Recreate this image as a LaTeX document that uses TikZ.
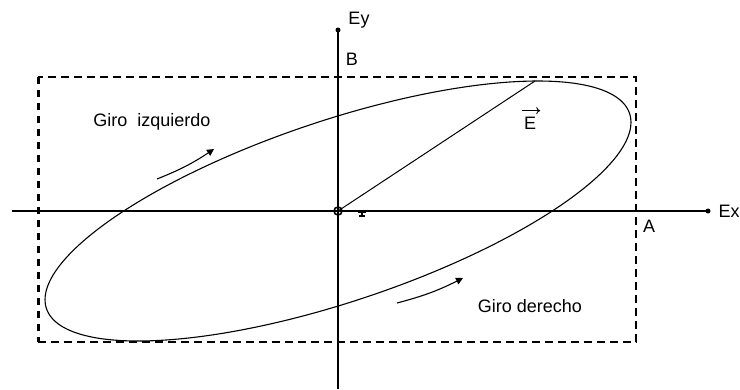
\documentclass[tikz,border=0pt]{standalone}
\usepackage{fontspec}
\setmainfont{Liberation Sans}
\usetikzlibrary{arrows.meta}
\begin{document}
\begin{tikzpicture}[x=1pt,y=-1pt,
  axis/.style={line width=1.5pt},
  lbl/.style={font=\fontsize{18}{20}\selectfont, inner sep=0pt},
  curve/.style={line width=1.1pt},
  rot/.style={line width=1.1pt,-{Triangle[length=7pt,width=7pt]}},
  box/.style={line width=1.3pt, dash pattern=on 8pt off 5pt},
  boxthick/.style={line width=3pt, dash pattern=on 7pt off 6pt},
  dot/.style={circle, fill, inner sep=0pt, minimum size=5pt}]
\useasboundingbox (0,0) rectangle (740,389);
% axes
\coordinate (O) at (338,211);
\coordinate (xl) at (12,211);
\coordinate (yb) at (338,389);
\node[dot] (xr) at (708,211) {};
\node[dot] (yt) at (338,30) {};
\draw[axis] (xl) -- (xr.center);
\draw[axis] (yb) -- (yt.center);
% dashed rectangle
\coordinate (rtl) at (38,77);
\coordinate (rtr) at (636,77);
\coordinate (rbr) at (636,342);
\coordinate (rbl) at (38,342);
\draw[box] (rbl) -- (rbr) -- (rtr) -- (rtl);
\draw[boxthick] (rtl) -- (rbl);
% ellipse
\draw[curve] plot[domain=0:360,samples=120,smooth] ({338+293*cos(\x)},{211-130*cos(\x-47)});
% field vector
\coordinate (Et) at (535,81);
\draw[line width=1pt] (O) -- (Et);
\draw[line width=1.6pt] (O) circle (4pt);
% small mark near origin
\draw[line width=1.2pt] (358,212) -- (366,212) (362,212) -- (362,216) (359,216) -- (365,216);
% labels
\node[lbl] (ey) at (359,20) {Ey};
\node[lbl] (ex) at (729,211) {Ex};
\node[lbl] (lb) at (352,59) {B};
\node[lbl] (la) at (649,226) {A};
\node[lbl] (le) at (530,123) {E};
\draw[line width=0.9pt,-{To[length=4pt,width=7pt]}] ([yshift=6pt,xshift=-2pt]le.north west) -- ([yshift=6pt,xshift=4pt]le.north east);
\node[lbl] (gi) at (152,122) {Giro\ \ izquierdo};
\node[lbl] (gd) at (530,306) {Giro derecho};
% rotation arrows
\coordinate (gi1) at (157,179);
\coordinate (gi2) at (214,149);
\coordinate (gd1) at (397,303);
\coordinate (gd2) at (463,278);
\draw[rot] (gi1) to[bend right=6] (gi2);
\draw[rot] (gd1) to[bend right=6] (gd2);
\end{tikzpicture}
\end{document}
